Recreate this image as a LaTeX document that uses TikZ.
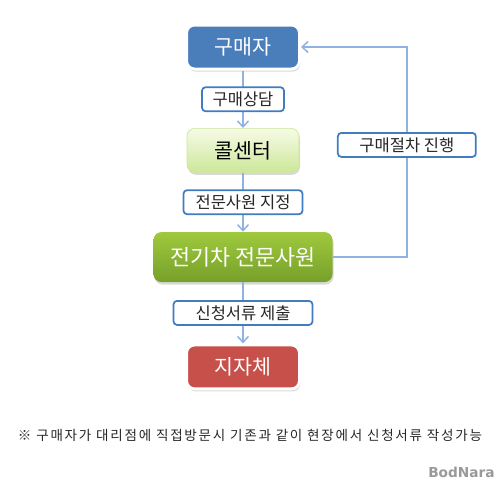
\documentclass[tikz,border=0pt]{standalone}
\usepackage{fontspec}
\setmainfont{Noto Sans CJK KR}
\newfontfamily\notefont[LetterSpace=13]{Noto Sans CJK KR}
\newfontfamily\markfont{DejaVu Sans}
\usetikzlibrary{arrows.meta, positioning, shadows}
\definecolor{LineBlue}{HTML}{8FB2E2}
\definecolor{TagBlue}{HTML}{3F7CC0}
\definecolor{BuyerBlue}{HTML}{4A7EBB}
\definecolor{AgencyRed}{HTML}{C8504B}
\definecolor{CallTop}{HTML}{F6FBE6}
\definecolor{CallBottom}{HTML}{CDE79A}
\definecolor{ExpertTop}{HTML}{A0C93E}
\definecolor{ExpertBottom}{HTML}{76A02A}

\begin{document}
\begin{tikzpicture}[>={Straight Barb[length=1.2mm,width=2.2mm]}, node distance=1.15cm,
                stage/.style={rectangle, rounded corners=1.6mm, text centered, font=\fontsize{11.7}{14}\selectfont, align=center, drop shadow={opacity=0.3, shadow xshift=0.2mm, shadow yshift=-0.5mm}},
                flat/.style={stage, draw=white, line width=0.6mm, text=white, minimum width=2.26cm, minimum height=0.88cm},
                tag/.style={rectangle, draw=TagBlue, line width=0.35mm, fill=white, text=black!85, rounded corners=0.7mm, minimum height=0.48cm, inner sep=0pt, text centered, font=\fontsize{9.4}{11}\selectfont},
                arrow/.style={->, LineBlue, line width=0.3mm}]
                \useasboundingbox (0,0) rectangle (10,-9.6);
                \node[flat, fill=BuyerBlue] (buyer) at (4.86,-0.94) {구매자};
                \node[stage, below=of buyer, top color=CallTop, bottom color=CallBottom, draw=CallBottom, minimum width=2.24cm, minimum height=0.88cm] (callcenter) {콜센터};
                \node[stage, below=1.18cm of callcenter, top color=ExpertTop, bottom color=ExpertBottom, text=white, minimum width=3.58cm, minimum height=1cm, font=\fontsize{12.4}{15}\selectfont] (expert) {전기차 전문사원};
                \node[flat, below=1.22cm of expert, fill=AgencyRed] (agency) {지자체};
                \coordinate[right=1.48cm of expert] (turn);

                \draw[arrow] (buyer) -- node[tag, minimum width=1.64cm] (consult) {구매상담} (callcenter);
                \draw[arrow] (callcenter) -- node[tag, minimum width=2.38cm] (assign) {전문사원 지정} (expert);
                \draw[arrow] (expert) -- node[tag, minimum width=2.78cm] (submit) {신청서류 제출} (agency);
                \draw[arrow] (expert) -- (turn) |- node[tag, pos=0.267, minimum width=2.76cm] (proceed) {구매절차 진행} (buyer);

                \node[font=\notefont\fontsize{7.7}{9}\selectfont, text=black!85] (note) at (5,-8.7) {※ 구매자가 대리점에 직접방문시 기존과 같이 현장에서 신청서류 작성가능};
                \node[font=\markfont\bfseries\fontsize{7.8}{10}\selectfont, text=black!40, anchor=south east, inner sep=0pt] (logo) at (9.9,-9.56) {BodNara};
            \end{tikzpicture}
\end{document}
